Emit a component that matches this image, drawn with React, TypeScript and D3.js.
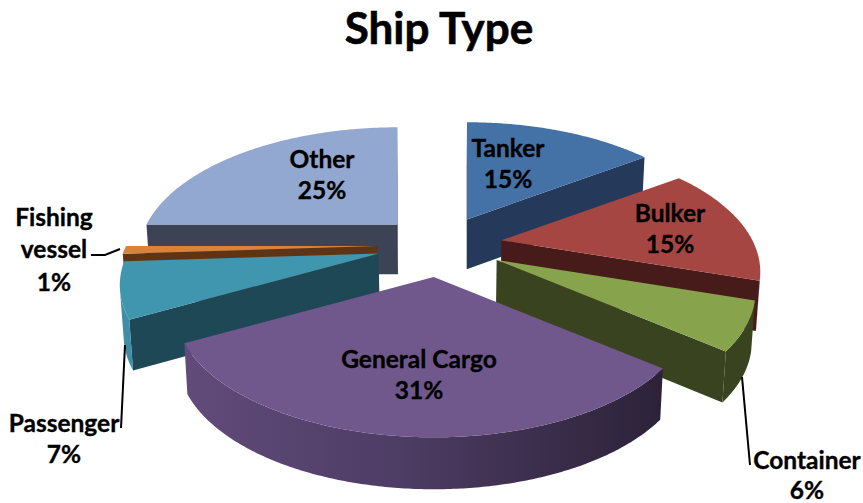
import React from "react";
import * as d3 from "d3";

const categories = ["Tanker", "Bulker", "Container", "General Cargo", "Passenger", "Fishing vessel", "Other"];
const shares = [15, 15, 6, 31, 7, 1, 25];

const topColors = ["#4472a6", "#a64643", "#87a44d", "#70578c", "#3f96ae", "#d9823a", "#93a8d0"];
const radialWallColors = ["#253a5a", "#471b19", "#394320", "#2d2339", "#1f4856", "#5e3414", "#3b4355"];
const outerWallColors = ["#253a5a", "#471b19", "#394320", "url(#cargoWall)", "#3f8ea5", "#5e3414", "#3b4355"];

const W = 863, H = 503;
const CX = 440, CY = 245;
const RX = 251, RY = 121, K = 0.245, EXPLODE = 0.25;
const labelFont = "Lato, 'Open Sans', sans-serif";

type P = [number, number];

// local perspective of a unit disc lying on the ground plane
const localScale = (y: number) => 1 / (1 - K * y);
const xScale = d3.scaleLinear().domain([-1, 1]).range([-RX, RX]);
const yScale = d3.scaleLinear().domain([-1, 1]).range([-RY, RY]);

function ground(x: number, y: number): P {
  const s = localScale(y);
  return [xScale(x) * s, yScale(y) * s];
}
const pointAt = (apex: P, a: number): P => {
  const [dx, dy] = ground(Math.sin(a), -Math.cos(a));
  return [apex[0] + dx, apex[1] + dy];
};
// bottom rim of the slab: deeper towards the viewer, pulled slightly to the centre
const lower = ([x, y]: P): P => {
  const t = (y - CY) / 200;
  return [CX + (x - CX) * 0.988, y + 50 + 2 * t];
};
const area = (q: P[]) => {
  let s = 0;
  q.forEach((p, i) => {
    const n = q[(i + 1) % q.length];
    s += p[0] * n[1] - n[0] * p[1];
  });
  return s;
};
const poly = (q: P[]) => d3.line()(q) + "Z";

const pieData = d3.pie<number>().sort(null).value((d) => d)(shares);

const slices = pieData.map((d, i) => {
  const a0 = d.startAngle, a1 = d.endAngle, mid = (a0 + a1) / 2;
  const g = ground(EXPLODE * Math.sin(mid), -EXPLODE * Math.cos(mid));
  const apex: P = [CX + g[0], CY + g[1]];
  const n = Math.max(4, Math.ceil((a1 - a0) / 0.01));
  const rim = d3.range(n + 1).map((k) => pointAt(apex, a0 + ((a1 - a0) * k) / n));
  const top = poly([apex, ...rim]);
  const walls: { d: string; fill: string }[] = [];

  const startQuad = [apex, rim[0], lower(rim[0]), lower(apex)];
  if (area(startQuad) < 0) walls.push({ d: poly(startQuad), fill: radialWallColors[i] });
  const endQuad = [apex, rim[n], lower(rim[n]), lower(apex)];
  if (area(endQuad) > 0) walls.push({ d: poly(endQuad), fill: radialWallColors[i] });

  // outer wall: only stretches of the rim that face the viewer
  let run: P[] = [];
  const flush = () => {
    if (run.length > 1) {
      walls.push({ d: poly([...run, ...run.map(lower).reverse()]), fill: outerWallColors[i] });
    }
    run = [];
  };
  for (let k = 0; k < n; k++) {
    const q = [rim[k], rim[k + 1], lower(rim[k + 1]), lower(rim[k])];
    if (area(q) < 0) {
      if (!run.length) run.push(rim[k]);
      run.push(rim[k + 1]);
    } else flush();
  }
  flush();
  return { i, top, walls, depth: -Math.cos(mid) };
});
const painted = d3.sort(slices, (s) => s.depth);

const labels: { lines: string[]; x: number; y: number[] }[] = [
  { lines: ["Tanker", "15%"], x: 508, y: [157, 188] },
  { lines: ["Bulker", "15%"], x: 670, y: [222, 253] },
  { lines: ["Container", "6%"], x: 807, y: [469, 499] },
  { lines: ["General Cargo", "31%"], x: 419, y: [368, 399] },
  { lines: ["Passenger", "7%"], x: 64, y: [432, 463] },
  { lines: ["Fishing", "vessel", "1%"], x: 54, y: [226, 258, 291] },
  { lines: ["Other", "25%"], x: 322, y: [168, 199] },
];
const leaders: P[][] = [
  [[91, 255], [105, 255], [120, 249]],
  [[121, 428], [125, 345]],
  [[750, 465], [742, 377]],
];

export default function App() {
  return (
    <svg width={W} height={H} viewBox={`0 0 ${W} ${H}`} style={{ position: "absolute", left: 0, top: 0, background: "#fff" }}>
      <defs>
        <linearGradient id="cargoWall" gradientUnits="userSpaceOnUse" x1={187} x2={663} y1={0} y2={0}>
          <stop offset="0" stopColor="#614b7a" />
          <stop offset="0.45" stopColor="#4d3c64" />
          <stop offset="1" stopColor="#2c2238" />
        </linearGradient>
      </defs>
      <text x={439} y={44} textAnchor="middle" fontFamily={labelFont} fontWeight={700} fontSize={44} fill="#000" stroke="#000" strokeWidth={0.6}>
        Ship Type
      </text>
      {painted.map((s) => (
        <g key={categories[s.i]}>
          {s.walls.map((w, j) => (
            <path key={j} d={w.d} fill={w.fill} />
          ))}
          <path d={s.top} fill={topColors[s.i]} />
        </g>
      ))}
      {leaders.map((l, i) => (
        <path key={i} d={d3.line()(l) ?? ""} fill="none" stroke="#000" strokeWidth={2} />
      ))}
      {labels.map((l) =>
        l.lines.map((t, j) => (
          <text key={l.lines[0] + j} x={l.x} y={l.y[j]} textAnchor="middle" fontFamily={labelFont} fontWeight={700} fontSize={24.5} fill="#000" stroke="#000" strokeWidth={0.35}>
            {t}
          </text>
        ))
      )}
    </svg>
  );
}
